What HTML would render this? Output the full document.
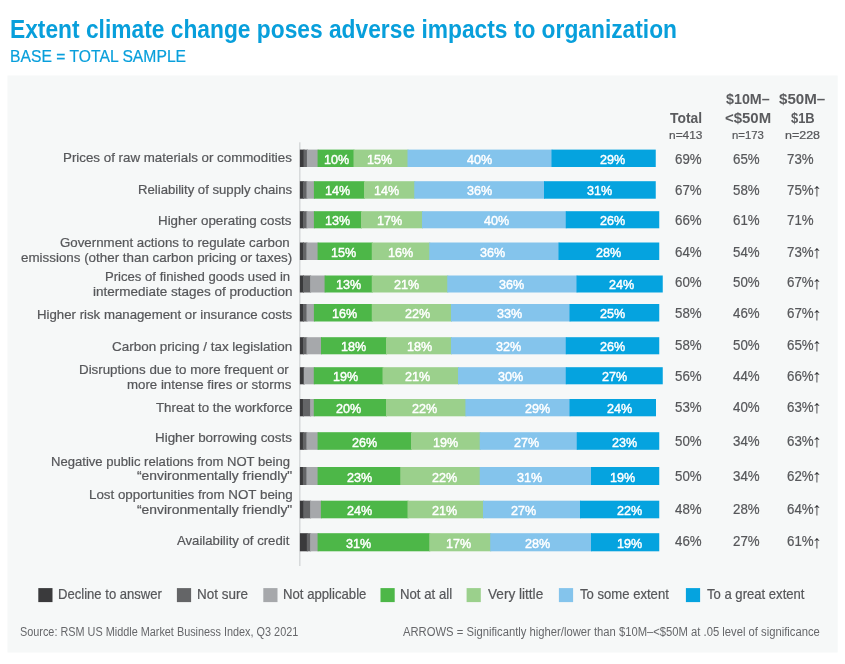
<!DOCTYPE html>
<html lang="en">
<head>
<meta charset="utf-8">
<title>Extent climate change poses adverse impacts to organization</title>
<style>
html,body{margin:0;padding:0;background:#fff}
body{width:845px;height:664px;position:relative;overflow:hidden;font-family:"Liberation Sans", Arial, sans-serif;color:#56575a}
.gfx{position:absolute;left:0;top:0;display:block}
.t{position:absolute;white-space:nowrap;line-height:1;transform-origin:0 0;margin:0;padding:0}
.b{font-weight:700}
.bl{-webkit-text-stroke:0.45px #fff}
.lab,.leg,.val,.hn,.sub{-webkit-text-stroke:0.22px currentColor}

</style>
</head>
<body>
<svg class="gfx" width="845" height="664" viewBox="0 0 845 664">
<rect x="7.5" y="75.5" width="830.2" height="577" fill="#f6f8f8"/>
<rect x="299.1" y="142.3" width="1.4" height="423.7" fill="#d4d6d8"/>
<g>
<rect x="299.90" y="149.60" width="4.60" height="17.40" fill="#3a3a3c"/>
<rect x="303.50" y="149.60" width="4.40" height="17.40" fill="#646567"/>
<rect x="306.90" y="149.60" width="11.70" height="17.40" fill="#a6a8ab"/>
<rect x="317.60" y="149.60" width="36.90" height="17.40" fill="#4db748"/>
<rect x="353.50" y="149.60" width="55.00" height="17.40" fill="#9bd08c"/>
<rect x="407.50" y="149.60" width="145.00" height="17.40" fill="#84c4ec"/>
<rect x="551.50" y="149.60" width="104.25" height="17.40" fill="#05a3df"/>
</g>
<g>
<rect x="299.90" y="181.20" width="4.10" height="17.50" fill="#3a3a3c"/>
<rect x="303.00" y="181.20" width="4.50" height="17.50" fill="#646567"/>
<rect x="306.50" y="181.20" width="8.40" height="17.50" fill="#a6a8ab"/>
<rect x="313.90" y="181.20" width="51.10" height="17.50" fill="#4db748"/>
<rect x="364.00" y="181.20" width="51.25" height="17.50" fill="#9bd08c"/>
<rect x="414.25" y="181.20" width="130.75" height="17.50" fill="#84c4ec"/>
<rect x="544.00" y="181.20" width="111.75" height="17.50" fill="#05a3df"/>
</g>
<g>
<rect x="299.90" y="211.20" width="4.10" height="17.10" fill="#3a3a3c"/>
<rect x="303.00" y="211.20" width="4.50" height="17.10" fill="#646567"/>
<rect x="306.50" y="211.20" width="8.40" height="17.10" fill="#a6a8ab"/>
<rect x="313.90" y="211.20" width="48.10" height="17.10" fill="#4db748"/>
<rect x="361.00" y="211.20" width="62.00" height="17.10" fill="#9bd08c"/>
<rect x="422.00" y="211.20" width="144.75" height="17.10" fill="#84c4ec"/>
<rect x="565.75" y="211.20" width="93.50" height="17.10" fill="#05a3df"/>
</g>
<g>
<rect x="299.90" y="242.50" width="4.10" height="17.50" fill="#3a3a3c"/>
<rect x="303.00" y="242.50" width="4.40" height="17.50" fill="#646567"/>
<rect x="306.40" y="242.50" width="12.20" height="17.50" fill="#a6a8ab"/>
<rect x="317.60" y="242.50" width="55.15" height="17.50" fill="#4db748"/>
<rect x="371.75" y="242.50" width="58.50" height="17.50" fill="#9bd08c"/>
<rect x="429.25" y="242.50" width="130.25" height="17.50" fill="#84c4ec"/>
<rect x="558.50" y="242.50" width="100.75" height="17.50" fill="#05a3df"/>
</g>
<g>
<rect x="299.90" y="275.50" width="4.10" height="17.00" fill="#3a3a3c"/>
<rect x="303.00" y="275.50" width="8.10" height="17.00" fill="#646567"/>
<rect x="310.10" y="275.50" width="15.50" height="17.00" fill="#a6a8ab"/>
<rect x="324.60" y="275.50" width="48.15" height="17.00" fill="#4db748"/>
<rect x="371.75" y="275.50" width="76.50" height="17.00" fill="#9bd08c"/>
<rect x="447.25" y="275.50" width="130.25" height="17.00" fill="#84c4ec"/>
<rect x="576.50" y="275.50" width="86.25" height="17.00" fill="#05a3df"/>
</g>
<g>
<rect x="299.90" y="304.00" width="4.10" height="17.50" fill="#3a3a3c"/>
<rect x="303.00" y="304.00" width="4.50" height="17.50" fill="#646567"/>
<rect x="306.50" y="304.00" width="8.40" height="17.50" fill="#a6a8ab"/>
<rect x="313.90" y="304.00" width="58.85" height="17.50" fill="#4db748"/>
<rect x="371.75" y="304.00" width="80.25" height="17.50" fill="#9bd08c"/>
<rect x="451.00" y="304.00" width="119.50" height="17.50" fill="#84c4ec"/>
<rect x="569.50" y="304.00" width="89.75" height="17.50" fill="#05a3df"/>
</g>
<g>
<rect x="299.90" y="337.20" width="4.10" height="17.10" fill="#3a3a3c"/>
<rect x="303.00" y="337.20" width="4.50" height="17.10" fill="#646567"/>
<rect x="306.50" y="337.20" width="15.50" height="17.10" fill="#a6a8ab"/>
<rect x="321.00" y="337.20" width="66.00" height="17.10" fill="#4db748"/>
<rect x="386.00" y="337.20" width="66.00" height="17.10" fill="#9bd08c"/>
<rect x="451.00" y="337.20" width="115.75" height="17.10" fill="#84c4ec"/>
<rect x="565.75" y="337.20" width="93.50" height="17.10" fill="#05a3df"/>
</g>
<g>
<rect x="299.90" y="367.20" width="4.35" height="17.10" fill="#3a3a3c"/>
<rect x="303.25" y="367.20" width="1.75" height="17.10" fill="#646567"/>
<rect x="304.00" y="367.20" width="10.80" height="17.10" fill="#a6a8ab"/>
<rect x="313.80" y="367.20" width="69.70" height="17.10" fill="#4db748"/>
<rect x="382.50" y="367.20" width="76.50" height="17.10" fill="#9bd08c"/>
<rect x="458.00" y="367.20" width="108.75" height="17.10" fill="#84c4ec"/>
<rect x="565.75" y="367.20" width="97.00" height="17.10" fill="#05a3df"/>
</g>
<g>
<rect x="299.90" y="399.00" width="4.00" height="17.30" fill="#3a3a3c"/>
<rect x="302.90" y="399.00" width="8.20" height="17.30" fill="#646567"/>
<rect x="310.10" y="399.00" width="4.70" height="17.30" fill="#a6a8ab"/>
<rect x="313.80" y="399.00" width="73.20" height="17.30" fill="#4db748"/>
<rect x="386.00" y="399.00" width="80.40" height="17.30" fill="#9bd08c"/>
<rect x="465.40" y="399.00" width="105.10" height="17.30" fill="#84c4ec"/>
<rect x="569.50" y="399.00" width="86.50" height="17.30" fill="#05a3df"/>
</g>
<g>
<rect x="299.90" y="432.20" width="4.00" height="17.60" fill="#3a3a3c"/>
<rect x="302.90" y="432.20" width="4.50" height="17.60" fill="#646567"/>
<rect x="306.40" y="432.20" width="12.20" height="17.60" fill="#a6a8ab"/>
<rect x="317.60" y="432.20" width="94.40" height="17.60" fill="#4db748"/>
<rect x="411.00" y="432.20" width="69.70" height="17.60" fill="#9bd08c"/>
<rect x="479.70" y="432.20" width="98.05" height="17.60" fill="#84c4ec"/>
<rect x="576.75" y="432.20" width="82.50" height="17.60" fill="#05a3df"/>
</g>
<g>
<rect x="299.90" y="467.00" width="4.00" height="18.00" fill="#3a3a3c"/>
<rect x="302.90" y="467.00" width="4.50" height="18.00" fill="#646567"/>
<rect x="306.40" y="467.00" width="12.20" height="18.00" fill="#a6a8ab"/>
<rect x="317.60" y="467.00" width="83.65" height="18.00" fill="#4db748"/>
<rect x="400.25" y="467.00" width="80.45" height="18.00" fill="#9bd08c"/>
<rect x="479.70" y="467.00" width="112.30" height="18.00" fill="#84c4ec"/>
<rect x="591.00" y="467.00" width="68.25" height="18.00" fill="#05a3df"/>
</g>
<g>
<rect x="299.90" y="500.70" width="4.35" height="17.60" fill="#3a3a3c"/>
<rect x="303.25" y="500.70" width="7.85" height="17.60" fill="#646567"/>
<rect x="310.10" y="500.70" width="11.80" height="17.60" fill="#a6a8ab"/>
<rect x="320.90" y="500.70" width="87.60" height="17.60" fill="#4db748"/>
<rect x="407.50" y="500.70" width="76.50" height="17.60" fill="#9bd08c"/>
<rect x="483.00" y="500.70" width="98.00" height="17.60" fill="#84c4ec"/>
<rect x="580.00" y="500.70" width="79.25" height="17.60" fill="#05a3df"/>
</g>
<g>
<rect x="299.90" y="533.20" width="7.90" height="18.10" fill="#3a3a3c"/>
<rect x="306.80" y="533.20" width="4.30" height="18.10" fill="#646567"/>
<rect x="310.10" y="533.20" width="8.50" height="18.10" fill="#a6a8ab"/>
<rect x="317.60" y="533.20" width="112.65" height="18.10" fill="#4db748"/>
<rect x="429.25" y="533.20" width="61.95" height="18.10" fill="#9bd08c"/>
<rect x="490.20" y="533.20" width="101.80" height="18.10" fill="#84c4ec"/>
<rect x="591.00" y="533.20" width="68.25" height="18.10" fill="#05a3df"/>
</g>
<rect x="38.30" y="588.1" width="14.2" height="14" fill="#3a3a3c"/>
<rect x="176.90" y="588.1" width="14.2" height="14" fill="#646567"/>
<rect x="263.30" y="588.1" width="14.2" height="14" fill="#a6a8ab"/>
<rect x="380.50" y="588.1" width="14.2" height="14" fill="#4db748"/>
<rect x="466.60" y="588.1" width="14.2" height="14" fill="#9bd08c"/>
<rect x="558.90" y="588.1" width="14.2" height="14" fill="#84c4ec"/>
<rect x="685.90" y="588.1" width="14.2" height="14" fill="#05a3df"/>
</svg>
<h1 class="t b title" style="left:10.40px;top:17.20px;font-size:25.3px;color:#089fdb;transform:scaleX(0.9003)">Extent climate change poses adverse impacts to organization</h1>
<span class="t sub" style="left:10.00px;top:48.20px;font-size:17.4px;color:#089fdb;transform:scaleX(0.9026)">BASE = TOTAL SAMPLE</span>
<span class="t lab" style="left:62.90px;top:151.20px;font-size:13.4px;transform:scaleX(0.9955)">Prices of raw materials or commodities</span>
<span class="t lab" style="left:137.72px;top:183.20px;font-size:13.4px;transform:scaleX(0.9811)">Reliability of supply chains</span>
<span class="t lab" style="left:158.30px;top:214.20px;font-size:13.4px;transform:scaleX(0.9964)">Higher operating costs</span>
<span class="t lab" style="left:60.40px;top:236.20px;font-size:13.4px;transform:scaleX(0.9924)">Government actions to regulate carbon</span>
<span class="t lab" style="left:21.30px;top:251.20px;font-size:13.4px;transform:scaleX(0.9985)">emissions (other than carbon pricing or taxes)</span>
<span class="t lab" style="left:105.02px;top:270.20px;font-size:13.4px;transform:scaleX(0.9791)">Prices of finished goods used in</span>
<span class="t lab" style="left:93.00px;top:285.20px;font-size:13.4px;transform:scaleX(1.0073)">intermediate stages of production</span>
<span class="t lab" style="left:36.51px;top:308.20px;font-size:13.4px;transform:scaleX(0.9881)">Higher risk management or insurance costs</span>
<span class="t lab" style="left:112.30px;top:340.20px;font-size:13.4px;transform:scaleX(1.0043)">Carbon pricing / tax legislation</span>
<span class="t lab" style="left:78.70px;top:363.20px;font-size:13.4px;transform:scaleX(0.9958)">Disruptions due to more frequent or</span>
<span class="t lab" style="left:127.40px;top:378.20px;font-size:13.4px;transform:scaleX(0.9901)">more intense fires or storms</span>
<span class="t lab" style="left:155.80px;top:401.20px;font-size:13.4px;transform:scaleX(0.9924)">Threat to the workforce</span>
<span class="t lab" style="left:154.80px;top:431.20px;font-size:13.4px;transform:scaleX(0.9997)">Higher borrowing costs</span>
<span class="t lab" style="left:50.92px;top:455.20px;font-size:13.4px;transform:scaleX(0.9769)">Negative public relations from NOT being</span>
<span class="t lab" style="left:137.00px;top:469.20px;font-size:13.4px;transform:scaleX(1.0358)">“environmentally friendly"</span>
<span class="t lab" style="left:88.60px;top:488.20px;font-size:13.4px;transform:scaleX(0.9959)">Lost opportunities from NOT being</span>
<span class="t lab" style="left:137.00px;top:503.20px;font-size:13.4px;transform:scaleX(1.0358)">“environmentally friendly"</span>
<span class="t lab" style="left:177.10px;top:534.20px;font-size:13.4px;transform:scaleX(0.9821)">Availability of credit</span>
<span class="t b hd" style="left:670.30px;top:111.20px;font-size:14px;color:#5a5b5e;transform:scaleX(0.9901)">Total</span>
<span class="t hn" style="left:669.20px;top:129.20px;font-size:11.6px;transform:scaleX(1.0276)">n=413</span>
<span class="t b hd" style="left:725.80px;top:92.20px;font-size:14px;color:#5a5b5e;transform:scaleX(1.0204)">$10M–</span>
<span class="t b hd" style="left:724.70px;top:111.20px;font-size:14px;color:#5a5b5e;transform:scaleX(1.0674)">&lt;$50M</span>
<span class="t hn" style="left:731.50px;top:129.20px;font-size:11.6px;transform:scaleX(0.9809)">n=173</span>
<span class="t b hd" style="left:778.70px;top:92.20px;font-size:14px;color:#5a5b5e;transform:scaleX(1.0809)">$50M–</span>
<span class="t b hd" style="left:790.60px;top:111.20px;font-size:14px;color:#5a5b5e;transform:scaleX(0.9229)">$1B</span>
<span class="t hn" style="left:784.70px;top:129.20px;font-size:11.6px;transform:scaleX(1.0743)">n=228</span>
<span class="t val" style="left:674.52px;top:152.20px;font-size:14.3px;transform:scaleX(0.9300)">69%</span>
<span class="t val" style="left:733.42px;top:152.20px;font-size:14.3px;transform:scaleX(0.9300)">65%</span>
<span class="t val" style="left:787.10px;top:152.20px;font-size:14.3px;transform:scaleX(0.9300)">73%</span>
<span class="t val" style="left:674.52px;top:183.20px;font-size:14.3px;transform:scaleX(0.9300)">67%</span>
<span class="t val" style="left:733.42px;top:183.20px;font-size:14.3px;transform:scaleX(0.9300)">58%</span>
<span class="t val" style="left:787.10px;top:183.20px;font-size:14.3px;transform:scaleX(0.9300)">75%</span>
<span class="t b arr" style="left:811.60px;top:182.20px;font-size:17.9px;color:#303134;transform:scaleX(1.1000)">↑</span>
<span class="t val" style="left:674.52px;top:213.20px;font-size:14.3px;transform:scaleX(0.9300)">66%</span>
<span class="t val" style="left:733.42px;top:213.20px;font-size:14.3px;transform:scaleX(0.9300)">61%</span>
<span class="t val" style="left:787.10px;top:213.20px;font-size:14.3px;transform:scaleX(0.9300)">71%</span>
<span class="t val" style="left:674.52px;top:245.20px;font-size:14.3px;transform:scaleX(0.9300)">64%</span>
<span class="t val" style="left:733.42px;top:245.20px;font-size:14.3px;transform:scaleX(0.9300)">54%</span>
<span class="t val" style="left:787.10px;top:245.20px;font-size:14.3px;transform:scaleX(0.9300)">73%</span>
<span class="t b arr" style="left:811.60px;top:244.20px;font-size:17.9px;color:#303134;transform:scaleX(1.1000)">↑</span>
<span class="t val" style="left:674.52px;top:275.20px;font-size:14.3px;transform:scaleX(0.9300)">60%</span>
<span class="t val" style="left:733.42px;top:275.20px;font-size:14.3px;transform:scaleX(0.9300)">50%</span>
<span class="t val" style="left:787.10px;top:275.20px;font-size:14.3px;transform:scaleX(0.9300)">67%</span>
<span class="t b arr" style="left:811.60px;top:275.20px;font-size:17.9px;color:#303134;transform:scaleX(1.1000)">↑</span>
<span class="t val" style="left:674.52px;top:306.20px;font-size:14.3px;transform:scaleX(0.9300)">58%</span>
<span class="t val" style="left:733.42px;top:306.20px;font-size:14.3px;transform:scaleX(0.9300)">46%</span>
<span class="t val" style="left:787.10px;top:306.20px;font-size:14.3px;transform:scaleX(0.9300)">67%</span>
<span class="t b arr" style="left:811.60px;top:306.20px;font-size:17.9px;color:#303134;transform:scaleX(1.1000)">↑</span>
<span class="t val" style="left:674.52px;top:338.20px;font-size:14.3px;transform:scaleX(0.9300)">58%</span>
<span class="t val" style="left:733.42px;top:338.20px;font-size:14.3px;transform:scaleX(0.9300)">50%</span>
<span class="t val" style="left:787.10px;top:338.20px;font-size:14.3px;transform:scaleX(0.9300)">65%</span>
<span class="t b arr" style="left:811.60px;top:337.20px;font-size:17.9px;color:#303134;transform:scaleX(1.1000)">↑</span>
<span class="t val" style="left:674.52px;top:369.20px;font-size:14.3px;transform:scaleX(0.9300)">56%</span>
<span class="t val" style="left:733.42px;top:369.20px;font-size:14.3px;transform:scaleX(0.9300)">44%</span>
<span class="t val" style="left:787.10px;top:369.20px;font-size:14.3px;transform:scaleX(0.9300)">66%</span>
<span class="t b arr" style="left:811.60px;top:368.20px;font-size:17.9px;color:#303134;transform:scaleX(1.1000)">↑</span>
<span class="t val" style="left:674.52px;top:400.20px;font-size:14.3px;transform:scaleX(0.9300)">53%</span>
<span class="t val" style="left:733.42px;top:400.20px;font-size:14.3px;transform:scaleX(0.9300)">40%</span>
<span class="t val" style="left:787.10px;top:400.20px;font-size:14.3px;transform:scaleX(0.9300)">63%</span>
<span class="t b arr" style="left:811.60px;top:399.20px;font-size:17.9px;color:#303134;transform:scaleX(1.1000)">↑</span>
<span class="t val" style="left:674.52px;top:434.20px;font-size:14.3px;transform:scaleX(0.9300)">50%</span>
<span class="t val" style="left:733.42px;top:434.20px;font-size:14.3px;transform:scaleX(0.9300)">34%</span>
<span class="t val" style="left:787.10px;top:434.20px;font-size:14.3px;transform:scaleX(0.9300)">63%</span>
<span class="t b arr" style="left:811.60px;top:433.20px;font-size:17.9px;color:#303134;transform:scaleX(1.1000)">↑</span>
<span class="t val" style="left:674.52px;top:469.20px;font-size:14.3px;transform:scaleX(0.9300)">50%</span>
<span class="t val" style="left:733.42px;top:469.20px;font-size:14.3px;transform:scaleX(0.9300)">34%</span>
<span class="t val" style="left:787.10px;top:469.20px;font-size:14.3px;transform:scaleX(0.9300)">62%</span>
<span class="t b arr" style="left:811.60px;top:468.20px;font-size:17.9px;color:#303134;transform:scaleX(1.1000)">↑</span>
<span class="t val" style="left:674.52px;top:502.20px;font-size:14.3px;transform:scaleX(0.9300)">48%</span>
<span class="t val" style="left:733.42px;top:502.20px;font-size:14.3px;transform:scaleX(0.9300)">28%</span>
<span class="t val" style="left:787.10px;top:502.20px;font-size:14.3px;transform:scaleX(0.9300)">64%</span>
<span class="t b arr" style="left:811.60px;top:501.20px;font-size:17.9px;color:#303134;transform:scaleX(1.1000)">↑</span>
<span class="t val" style="left:674.52px;top:534.20px;font-size:14.3px;transform:scaleX(0.9300)">46%</span>
<span class="t val" style="left:733.42px;top:534.20px;font-size:14.3px;transform:scaleX(0.9300)">27%</span>
<span class="t val" style="left:787.10px;top:534.20px;font-size:14.3px;transform:scaleX(0.9300)">61%</span>
<span class="t b arr" style="left:811.60px;top:534.20px;font-size:17.9px;color:#303134;transform:scaleX(1.1000)">↑</span>
<span class="t bl" style="left:323.92px;top:153.20px;font-size:13.7px;color:#fff;transform:scaleX(0.9200)">10%</span>
<span class="t bl" style="left:366.77px;top:153.20px;font-size:13.7px;color:#fff;transform:scaleX(0.9200)">15%</span>
<span class="t bl" style="left:467.38px;top:153.20px;font-size:13.7px;color:#fff;transform:scaleX(0.9200)">40%</span>
<span class="t bl" style="left:600.23px;top:153.20px;font-size:13.7px;color:#fff;transform:scaleX(0.9200)">29%</span>
<span class="t bl" style="left:324.62px;top:184.20px;font-size:13.7px;color:#fff;transform:scaleX(0.9200)">14%</span>
<span class="t bl" style="left:374.42px;top:184.20px;font-size:13.7px;color:#fff;transform:scaleX(0.9200)">14%</span>
<span class="t bl" style="left:467.23px;top:184.20px;font-size:13.7px;color:#fff;transform:scaleX(0.9200)">36%</span>
<span class="t bl" style="left:586.88px;top:184.20px;font-size:13.7px;color:#fff;transform:scaleX(0.9200)">31%</span>
<span class="t bl" style="left:324.62px;top:214.20px;font-size:13.7px;color:#fff;transform:scaleX(0.9200)">13%</span>
<span class="t bl" style="left:377.12px;top:214.20px;font-size:13.7px;color:#fff;transform:scaleX(0.9200)">17%</span>
<span class="t bl" style="left:484.23px;top:214.20px;font-size:13.7px;color:#fff;transform:scaleX(0.9200)">40%</span>
<span class="t bl" style="left:600.23px;top:214.20px;font-size:13.7px;color:#fff;transform:scaleX(0.9200)">26%</span>
<span class="t bl" style="left:330.62px;top:246.20px;font-size:13.7px;color:#fff;transform:scaleX(0.9200)">15%</span>
<span class="t bl" style="left:387.62px;top:246.20px;font-size:13.7px;color:#fff;transform:scaleX(0.9200)">16%</span>
<span class="t bl" style="left:479.98px;top:246.20px;font-size:13.7px;color:#fff;transform:scaleX(0.9200)">36%</span>
<span class="t bl" style="left:596.48px;top:246.20px;font-size:13.7px;color:#fff;transform:scaleX(0.9200)">28%</span>
<span class="t bl" style="left:335.52px;top:278.20px;font-size:13.7px;color:#fff;transform:scaleX(0.9200)">13%</span>
<span class="t bl" style="left:394.48px;top:278.20px;font-size:13.7px;color:#fff;transform:scaleX(0.9200)">21%</span>
<span class="t bl" style="left:499.48px;top:278.20px;font-size:13.7px;color:#fff;transform:scaleX(0.9200)">36%</span>
<span class="t bl" style="left:608.98px;top:278.20px;font-size:13.7px;color:#fff;transform:scaleX(0.9200)">24%</span>
<span class="t bl" style="left:331.62px;top:307.20px;font-size:13.7px;color:#fff;transform:scaleX(0.9200)">16%</span>
<span class="t bl" style="left:404.73px;top:307.20px;font-size:13.7px;color:#fff;transform:scaleX(0.9200)">22%</span>
<span class="t bl" style="left:496.88px;top:307.20px;font-size:13.7px;color:#fff;transform:scaleX(0.9200)">33%</span>
<span class="t bl" style="left:600.23px;top:307.20px;font-size:13.7px;color:#fff;transform:scaleX(0.9200)">25%</span>
<span class="t bl" style="left:340.52px;top:340.20px;font-size:13.7px;color:#fff;transform:scaleX(0.9200)">18%</span>
<span class="t bl" style="left:406.62px;top:340.20px;font-size:13.7px;color:#fff;transform:scaleX(0.9200)">18%</span>
<span class="t bl" style="left:495.88px;top:340.20px;font-size:13.7px;color:#fff;transform:scaleX(0.9200)">32%</span>
<span class="t bl" style="left:599.73px;top:340.20px;font-size:13.7px;color:#fff;transform:scaleX(0.9200)">26%</span>
<span class="t bl" style="left:333.42px;top:370.20px;font-size:13.7px;color:#fff;transform:scaleX(0.9200)">19%</span>
<span class="t bl" style="left:405.08px;top:370.20px;font-size:13.7px;color:#fff;transform:scaleX(0.9200)">21%</span>
<span class="t bl" style="left:498.38px;top:370.20px;font-size:13.7px;color:#fff;transform:scaleX(0.9200)">30%</span>
<span class="t bl" style="left:602.23px;top:370.20px;font-size:13.7px;color:#fff;transform:scaleX(0.9200)">27%</span>
<span class="t bl" style="left:335.88px;top:402.20px;font-size:13.7px;color:#fff;transform:scaleX(0.9200)">20%</span>
<span class="t bl" style="left:412.48px;top:402.20px;font-size:13.7px;color:#fff;transform:scaleX(0.9200)">22%</span>
<span class="t bl" style="left:524.98px;top:402.20px;font-size:13.7px;color:#fff;transform:scaleX(0.9200)">29%</span>
<span class="t bl" style="left:606.98px;top:402.20px;font-size:13.7px;color:#fff;transform:scaleX(0.9200)">24%</span>
<span class="t bl" style="left:351.58px;top:436.20px;font-size:13.7px;color:#fff;transform:scaleX(0.9200)">26%</span>
<span class="t bl" style="left:432.62px;top:436.20px;font-size:13.7px;color:#fff;transform:scaleX(0.9200)">19%</span>
<span class="t bl" style="left:513.73px;top:436.20px;font-size:13.7px;color:#fff;transform:scaleX(0.9200)">27%</span>
<span class="t bl" style="left:612.38px;top:436.20px;font-size:13.7px;color:#fff;transform:scaleX(0.9200)">23%</span>
<span class="t bl" style="left:346.58px;top:471.20px;font-size:13.7px;color:#fff;transform:scaleX(0.9200)">23%</span>
<span class="t bl" style="left:431.88px;top:471.20px;font-size:13.7px;color:#fff;transform:scaleX(0.9200)">22%</span>
<span class="t bl" style="left:517.38px;top:471.20px;font-size:13.7px;color:#fff;transform:scaleX(0.9200)">31%</span>
<span class="t bl" style="left:610.02px;top:471.20px;font-size:13.7px;color:#fff;transform:scaleX(0.9200)">19%</span>
<span class="t bl" style="left:346.58px;top:504.20px;font-size:13.7px;color:#fff;transform:scaleX(0.9200)">24%</span>
<span class="t bl" style="left:432.48px;top:504.20px;font-size:13.7px;color:#fff;transform:scaleX(0.9200)">21%</span>
<span class="t bl" style="left:511.23px;top:504.20px;font-size:13.7px;color:#fff;transform:scaleX(0.9200)">27%</span>
<span class="t bl" style="left:617.38px;top:504.20px;font-size:13.7px;color:#fff;transform:scaleX(0.9200)">22%</span>
<span class="t bl" style="left:346.38px;top:537.20px;font-size:13.7px;color:#fff;transform:scaleX(0.9200)">31%</span>
<span class="t bl" style="left:445.92px;top:537.20px;font-size:13.7px;color:#fff;transform:scaleX(0.9200)">17%</span>
<span class="t bl" style="left:524.58px;top:537.20px;font-size:13.7px;color:#fff;transform:scaleX(0.9200)">28%</span>
<span class="t bl" style="left:616.62px;top:537.20px;font-size:13.7px;color:#fff;transform:scaleX(0.9200)">19%</span>
<span class="t leg" style="left:58.34px;top:587.20px;font-size:14.3px;transform:scaleX(0.9147)">Decline to answer</span>
<span class="t leg" style="left:196.56px;top:587.20px;font-size:14.3px;transform:scaleX(0.9420)">Not sure</span>
<span class="t leg" style="left:283.33px;top:587.20px;font-size:14.3px;transform:scaleX(0.9202)">Not applicable</span>
<span class="t leg" style="left:400.08px;top:587.20px;font-size:14.3px;transform:scaleX(0.9232)">Not at all</span>
<span class="t leg" style="left:488.00px;top:587.20px;font-size:14.3px;transform:scaleX(0.9517)">Very little</span>
<span class="t leg" style="left:580.40px;top:587.20px;font-size:14.3px;transform:scaleX(0.9162)">To some extent</span>
<span class="t leg" style="left:707.00px;top:587.20px;font-size:14.3px;transform:scaleX(0.9153)">To a great extent</span>
<span class="t foot" style="left:19.60px;top:626.20px;font-size:12.3px;color:#66676a;transform:scaleX(0.8831)">Source: RSM US Middle Market Business Index, Q3 2021</span>
<span class="t foot" style="left:402.50px;top:626.20px;font-size:12.3px;color:#66676a;transform:scaleX(0.9143)">ARROWS = Significantly higher/lower than $10M–&lt;$50M at .05 level of significance</span>
</body>
</html>
